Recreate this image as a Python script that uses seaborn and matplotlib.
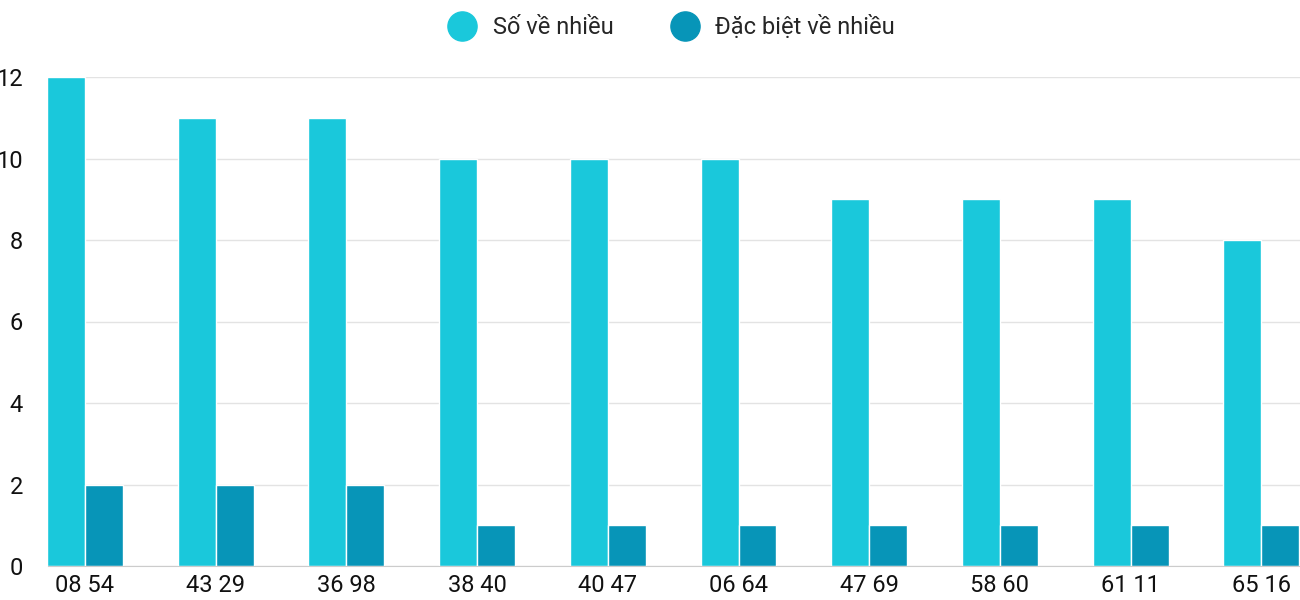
import matplotlib
matplotlib.use("Agg")
import matplotlib.pyplot as plt
import seaborn as sns
import pandas as pd
from matplotlib.lines import Line2D

pairs = ["08 54", "43 29", "36 98", "38 40", "40 47", "06 64", "47 69", "58 60", "61 11", "65 16"]
so_ve_nhieu = [12, 11, 11, 10, 10, 10, 9, 9, 9, 8]
dac_biet = [2, 2, 2, 1, 1, 1, 1, 1, 1, 1]
series = ["Số về nhiều", "Đặc biệt về nhiều"]
colors = ["#1ac8db", "#0795b8"]

df = pd.DataFrame({
    "pair": pairs * 2,
    "value": so_ve_nhieu + dac_biet,
    "series": [series[0]] * len(pairs) + [series[1]] * len(pairs),
})

sns.set_style("white")
plt.rcParams["font.family"] = ["Roboto", "DejaVu Sans"]

fig = plt.figure(figsize=(13, 6), dpi=100)
ax = fig.add_axes([48 / 1300, 34 / 600, 1252 / 1300, 489 / 600])
sns.barplot(data=df, x="pair", y="value", hue="series", palette=colors,
            width=0.58, saturation=1, ax=ax, legend=False)
for p in ax.patches:
    p.set_edgecolor("white")
    p.set_linewidth(1)

ax.set_xlim(-0.283, 9.296)
ax.set_ylim(0, 12)
ax.set_yticks(range(0, 13, 2))
ax.grid(axis="y", color="#e3e3e3", linewidth=1)
ax.set_axisbelow(True)
for s in ax.spines.values():
    s.set_visible(False)
ax.spines["bottom"].set_visible(True)
ax.spines["bottom"].set_color("#cccccc")
ax.set_xlabel("")
ax.set_ylabel("")
ax.tick_params(axis="both", length=0, labelsize=17, labelcolor="#111111")
ax.tick_params(axis="y", pad=18)
ax.tick_params(axis="x", pad=6)

handles = [Line2D([0], [0], marker="o", linestyle="", markersize=21,
                  markerfacecolor=c, markeredgecolor=c) for c in colors]
fig.legend(handles, series, loc="upper center", bbox_to_anchor=(0.513, 1.01),
           ncol=2, frameon=False, fontsize=17, handletextpad=0.3, columnspacing=2)

fig.savefig("out.png", dpi=100)
